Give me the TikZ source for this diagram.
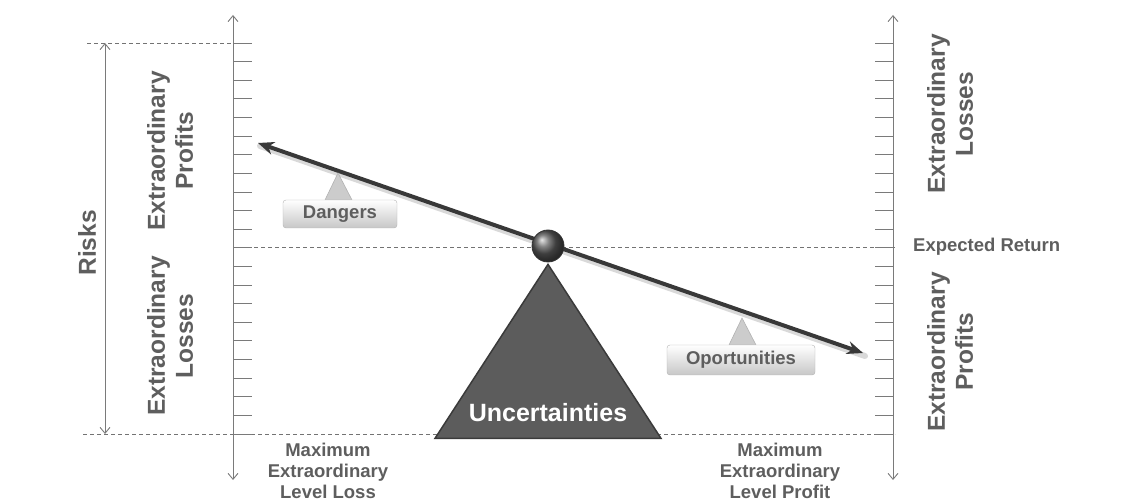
\documentclass[tikz,border=0pt]{standalone}
\usepackage{fontspec}
\setmainfont{Liberation Sans}
\usetikzlibrary{arrows.meta,shapes.geometric,calc}
\definecolor{txtgray}{HTML}{5E5E5E}
\definecolor{axisgray}{HTML}{7A7A7A}
\definecolor{beamgray}{HTML}{383838}
\definecolor{trifill}{HTML}{5C5C5C}
\definecolor{triedge}{HTML}{3A3A3A}
\tikzset{
  axisline/.style={draw=axisgray, line width=0.9pt, {Straight Barb[length=6pt,width=10pt]}-{Straight Barb[length=6pt,width=10pt]}},
  tickline/.style={draw=axisgray, line width=0.9pt},
  dashline/.style={draw=black!55, line width=0.8pt, dash pattern=on 4pt off 3pt},
  bigtext/.style={text=txtgray, font=\bfseries\fontsize{24.5}{28}\selectfont, align=center, rotate=90, inner sep=0pt},
  smalltext/.style={text=txtgray, font=\bfseries\fontsize{18.5}{21}\selectfont, align=center, inner sep=0pt},
  labelbox/.style={rectangle, rounded corners=3pt, draw=black!30, top color=white, bottom color=black!22,
     text=txtgray, font=\bfseries\fontsize{18.5}{20}\selectfont, inner sep=0pt},
  smalltri/.style={fill=black!20, draw=black!30, line width=0.6pt},
}
\begin{document}
\begin{tikzpicture}[x=1pt,y=-1pt]
\useasboundingbox (0,0) rectangle (1138,502);
% named coordinates
\coordinate (LAtop) at (233,15);
\coordinate (LAbot) at (233,480);
\coordinate (RAtop) at (893,15);
\coordinate (RAbot) at (893,480);
\coordinate (Rtop) at (105,43);
\coordinate (Rbot) at (105,434);
\coordinate (DTl) at (87,43);
\coordinate (DTr) at (236,43);
\coordinate (DMl) at (233,247);
\coordinate (DMr) at (897,247);
\coordinate (DBl) at (83,434);
\coordinate (DBr) at (895,434);
\coordinate (BeamL) at (258,143);
\coordinate (BeamR) at (863,353);

% dashed guide lines
\draw[dashline] (DTl) -- (DTr);
\draw[dashline] (DMl) -- (DMr);
\draw[dashline] (DBl) -- (DBr);

% axes
\draw[axisline] (LAbot) -- (LAtop);
\draw[axisline] (RAbot) -- (RAtop);
\draw[axisline] (Rbot) -- (Rtop);

% ticks
\foreach \i in {0,...,21}{
  \pgfmathsetmacro{\yy}{43+\i*18.62}
  \draw[tickline] (233,\yy) -- (252,\yy);
  \draw[tickline] (875,\yy) -- (893,\yy);
}

% texts along axes
\node[bigtext] (risks) at (87,243) {Risks};
\node[bigtext] (lprof) at (170,151) {Extraordinary\\Profits};
\node[bigtext] (lloss) at (170,336) {Extraordinary\\Losses};
\node[bigtext] (rloss) at (950,114) {Extraordinary\\Losses};
\node[bigtext] (rprof) at (950,352) {Extraordinary\\Profits};
\node[smalltext, anchor=west] (exp) at (913,247) {Expected Return};
\node[smalltext] (maxloss) at (328,471) {Maximum\\Extraordinary\\Level Loss};
\node[smalltext] (maxprof) at (780,471) {Maximum\\Extraordinary\\Level Profit};

% fulcrum triangle
\node[draw=triedge, fill=trifill, line width=1.5pt, isosceles triangle, isosceles triangle apex angle=66,
      shape border rotate=90, minimum height=174pt, inner sep=0pt, anchor=apex] (tri) at (548,263) {};
\node[text=white, font=\bfseries\fontsize{25}{28}\selectfont, inner sep=0pt] (unc) at (548,413) {Uncertainties};

% beam shadow and beam
\draw[line width=6pt, black!15, line cap=round] ($(BeamL)+(2,3)$) -- ($(BeamR)+(2,3)$);
\draw[line width=4pt, beamgray, {Stealth[length=16pt,width=13pt]}-{Stealth[length=16pt,width=13pt]}] (BeamL) -- (BeamR);

% pivot ball
\node[circle, minimum size=32pt, inner sep=0pt, draw=black!80, line width=0.8pt, ball color=black!65] (ball) at (548,246) {};

% small triangles and label boxes
\draw[smalltri] (325,200) -- (338,173) -- (352,200) -- cycle;
\node[labelbox, minimum width=114pt, minimum height=28pt] (dang) at (340,214) {Dangers};
\draw[smalltri] (729,345) -- (742,318) -- (756,345) -- cycle;
\node[labelbox, minimum width=148pt, minimum height=30pt] (oport) at (741,360) {Oportunities};
\end{tikzpicture}
\end{document}
